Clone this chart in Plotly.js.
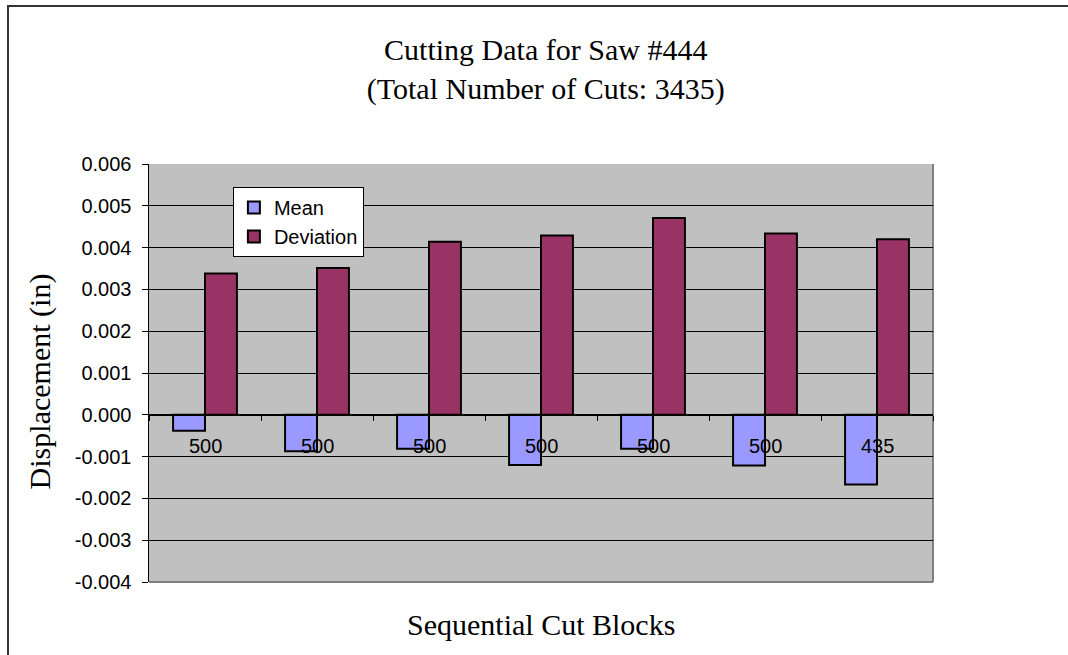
<!DOCTYPE html>
<html>
<head>
<meta charset="utf-8">
<script src="https://cdn.plot.ly/plotly-3.0.1.min.js"></script>
<style>
	html, body { margin: 0; padding: 0; background: #fff; overflow: hidden; }
	#chart { position: relative; width: 1068px; height: 655px; overflow: hidden; }
	#frame {
		position: absolute; left: 7px; top: 5px; width: 1100px; height: 700px;
		border-left: 2px solid #333; border-top: 2px solid #333;
		pointer-events: none; z-index: 10;
	}
</style>
</head>
<body>
<div id="chart"><div id="frame"></div></div>
<script>
(function () {

	'use strict';

	// cut blocks (category axis, labels hidden)
	const blocks = ['Block 1', 'Block 2', 'Block 3', 'Block 4', 'Block 5', 'Block 6', 'Block 7'];

	// number of cuts in each block (data labels)
	const cutCounts = [500, 500, 500, 500, 500, 500, 435];

	// displacement values (in)
	const meanValues = [-0.00038, -0.00087, -0.00081, -0.00120, -0.00081, -0.00121, -0.00167];
	const deviationValues = [0.00338, 0.00351, 0.00414, 0.00429, 0.00471, 0.00434, 0.00420];

	// y ticks
	const yTicks = [-0.004, -0.003, -0.002, -0.001, 0, 0.001, 0.002, 0.003, 0.004, 0.005, 0.006];

	const serif = '"Liberation Serif", "Times New Roman", serif';
	const sans = '"Liberation Sans", Arial, sans-serif';

	const barLine = { color: '#000', width: 2 };

	const mean = {
		x: blocks,
		y: meanValues,
		name: 'Mean',
		type: 'bar',
		marker: { color: '#9999FF', line: barLine },
	};

	const deviation = {
		x: blocks,
		y: deviationValues,
		name: 'Deviation',
		type: 'bar',
		marker: { color: '#993366', line: barLine },
	};

	// count labels sit just under the zero line
	const countLabels = blocks.map((b, i) => ({
		x: b, y: 0, xref: 'x', yref: 'y',
		text: String(cutCounts[i]),
		showarrow: false,
		yanchor: 'middle',
		yshift: -31,
		font: { family: sans, size: 20, color: '#000' },
	}));

	const layout = {
		width: 1068,
		height: 655,
		paper_bgcolor: '#fff',
		plot_bgcolor: '#C0C0C0',
		margin: { l: 149, r: 135, t: 164, b: 73 },
		showlegend: true,
		barmode: 'group',
		bargap: 0.43,
		bargroupgap: 0,
		title: {
			text: 'Cutting Data for Saw #444<br>(Total Number of Cuts: 3435)',
			font: { family: serif, size: 30, color: '#000' },
			x: 0.511,
			xanchor: 'center',
			yref: 'container',
			y: 0.909,
			yanchor: 'top',
		},
		legend: {
			x: 0.107, y: 0.945, xanchor: 'left', yanchor: 'top',
			bgcolor: '#fff',
			bordercolor: '#000',
			borderwidth: 1,
			font: { family: sans, size: 20, color: '#000' },
			tracegroupgap: 4,
			itemwidth: 30,
		},
		xaxis: {
			type: 'category',
			anchor: 'free',
			position: 0.4,
			showline: true,
			linecolor: '#000',
			linewidth: 1,
			ticks: 'outside',
			tickson: 'boundaries',
			ticklen: 5,
			tickcolor: '#000',
			showticklabels: false,
			showgrid: false,
			zeroline: false,
			fixedrange: true,
		},
		yaxis: {
			range: [-0.004, 0.006],
			tickvals: yTicks,
			ticktext: yTicks.map(v => v.toFixed(3)),
			tickfont: { family: sans, size: 20, color: '#000' },
			ticks: 'outside',
			ticklen: 6,
			tickcolor: '#000',
			ticklabelstandoff: 6,
			showline: true,
			linecolor: '#000',
			linewidth: 1.5,
			showgrid: true,
			gridcolor: '#000',
			gridwidth: 1,
			zeroline: false,
			fixedrange: true,
		},
		shapes: [
			// right and bottom frame of the plot area
			{ type: 'line', xref: 'paper', yref: 'paper', x0: 1, x1: 1, y0: 0, y1: 1, line: { color: '#808080', width: 2 }, layer: 'below' },
			{ type: 'line', xref: 'paper', yref: 'paper', x0: 0, x1: 1, y0: 0, y1: 0, line: { color: '#808080', width: 2 }, layer: 'below' },
		],
		annotations: countLabels.concat([
			{
				text: 'Displacement (in)',
				xref: 'paper', yref: 'paper',
				x: -0.139, y: 0.48, xanchor: 'center', yanchor: 'middle',
				textangle: -90, showarrow: false,
				font: { family: serif, size: 30, color: '#000' },
			},
			{
				text: 'Sequential Cut Blocks',
				xref: 'paper', yref: 'paper',
				x: 0.5, y: -0.102, xanchor: 'center', yanchor: 'middle',
				showarrow: false,
				font: { family: serif, size: 30, color: '#000' },
			},
		]),
	};

	Plotly.newPlot('chart', [mean, deviation], layout, { displayModeBar: false, staticPlot: true });

})();
</script>
</body>
</html>
